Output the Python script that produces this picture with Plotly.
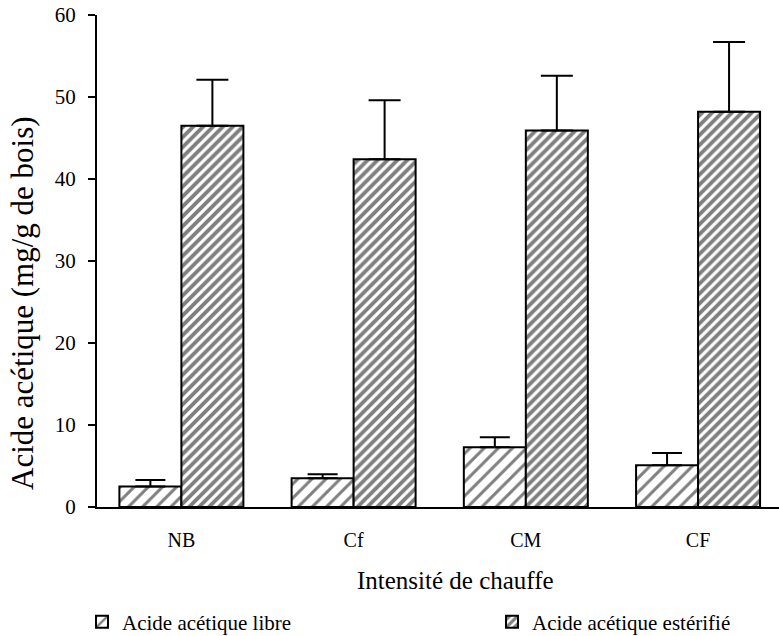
import plotly.graph_objects as go

categories = ["NB", "Cf", "CM", "CF"]
libre = [2.5, 3.5, 7.3, 5.1]
libre_err = [0.8, 0.5, 1.2, 1.5]
esterifie = [46.5, 42.4, 45.9, 48.2]
esterifie_err = [5.6, 7.2, 6.7, 8.5]
y_ticks = [0, 10, 20, 30, 40, 50, 60]

FONT = "Liberation Serif"

fig = go.Figure()
fig.add_trace(go.Bar(
    x=categories, y=libre, name="Acide acétique libre", legend="legend",
    marker=dict(color="white", line=dict(color="black", width=2),
                pattern=dict(shape="/", fgcolor="black", bgcolor="white", size=10, solidity=0.3)),
    error_y=dict(type="data", array=libre_err, arrayminus=[0]*4, symmetric=False,
                 color="black", thickness=2, width=15),
))
fig.add_trace(go.Bar(
    x=categories, y=esterifie, name="Acide acétique estérifié", legend="legend2",
    marker=dict(color="white", line=dict(color="black", width=2),
                pattern=dict(shape="/", fgcolor="black", bgcolor="white", size=7, solidity=0.55)),
    error_y=dict(type="data", array=esterifie_err, arrayminus=[0]*4, symmetric=False,
                 color="black", thickness=2, width=16),
))

legend_common = dict(orientation="h", yanchor="middle", xanchor="left",
                     xref="container", yref="container",
                     y=1 - 622 / 636,
                     font=dict(family=FONT, size=21, color="black"),
                     bgcolor="rgba(0,0,0,0)")

fig.update_layout(
    width=779, height=636,
    margin=dict(l=97, r=0, t=15, b=129, autoexpand=False),
    paper_bgcolor="white", plot_bgcolor="white",
    barmode="group", bargap=0.28, bargroupgap=0,
    font=dict(family=FONT, color="black", size=20),
    showlegend=True,
    legend=dict(x=82 / 779, **legend_common),
    legend2=dict(x=492 / 779, **legend_common),
    xaxis=dict(range=[-0.49, 3.47], showline=True, linecolor="black", linewidth=2,
               ticks="", showgrid=False, zeroline=False,
               tickfont=dict(family=FONT, size=20, color="black"),
               ticklabelstandoff=14),
    yaxis=dict(range=[0, 60], tickvals=y_ticks, showline=True, linecolor="black", linewidth=2,
               ticks="outside", ticklen=7, tickwidth=2, tickcolor="black",
               showgrid=False, zeroline=False,
               tickfont=dict(family=FONT, size=21, color="black"),
               ticklabelstandoff=8),
    annotations=[
        dict(text="Intensité de chauffe", xref="paper", yref="paper",
             x=(455 - 97) / 682, y=(507 - 580) / 492, xanchor="center", yanchor="middle",
             showarrow=False, font=dict(family=FONT, size=25, color="black")),
        dict(text="Acide acétique (mg/g de bois)", xref="paper", yref="paper",
             x=(22 - 97) / 682, y=(507 - 303) / 492, xanchor="center", yanchor="middle",
             textangle=-90, showarrow=False, font=dict(family=FONT, size=31, color="black")),
    ],
)

fig.write_html("out.html")
